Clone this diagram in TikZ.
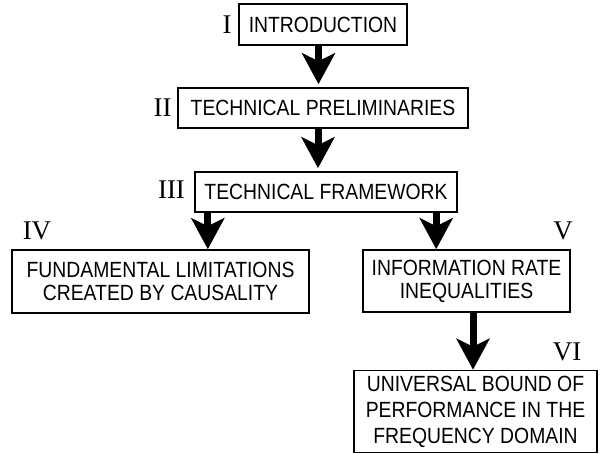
\documentclass[tikz,border=0pt]{standalone}
\usepackage{fontspec}
\setmainfont{Liberation Sans}[FakeStretch=0.88]
\newfontfamily\numfont{Liberation Serif}
\usetikzlibrary{arrows.meta}
\begin{document}
\begin{tikzpicture}[x=1pt,y=-1pt,
  box/.style={draw,line width=1.6pt,align=center,inner sep=0pt,
    font=\fontsize{22}{23}\selectfont},
  numlabel/.style={font=\numfont\fontsize{27}{27}\selectfont,inner sep=0pt},
  bigarrow/.style={line width=7pt,-{Stealth[length=31pt,width=33pt,inset=8pt]}}]
\useasboundingbox (0,0) rectangle (601,454);
\node[box,minimum width=168pt,minimum height=41pt] (intro) at (323,24.5) {INTRODUCTION};
\node[box,minimum width=290pt,minimum height=40pt] (prelim) at (323,108) {TECHNICAL PRELIMINARIES};
\node[box,minimum width=262pt,minimum height=40pt] (frame) at (326,192) {TECHNICAL FRAMEWORK};
\node[box,minimum width=297pt,minimum height=63pt] (fund) at (160.5,281.5) {FUNDAMENTAL LIMITATIONS\\CREATED BY CAUSALITY};
\node[box,minimum width=207pt,minimum height=62pt] (info) at (466.5,281) {INFORMATION RATE\\INEQUALITIES};
\node[box,minimum width=243pt,minimum height=82pt,font=\fontsize{22}{26}\selectfont] (univ) at (475.5,411.5) {UNIVERSAL BOUND OF\\PERFORMANCE IN THE\\FREQUENCY DOMAIN};
\node[numlabel] (l1) at (227,25) {I};
\node[numlabel] (l2) at (162.5,108) {II};
\node[numlabel] (l3) at (171.5,190) {III};
\node[numlabel] (l4) at (37,231) {IV};
\node[numlabel] (l5) at (563,231) {V};
\node[numlabel] (l6) at (567,352) {VI};
\draw[bigarrow,shorten >=3pt] ([xshift=-4.5pt]intro.south) -- ([xshift=-4.5pt]intro.south |- prelim.north);
\draw[bigarrow,shorten >=3pt] ([xshift=-5pt]prelim.south) -- ([xshift=-5pt]prelim.south |- frame.north);
\draw[bigarrow] (frame.south -| fund.north east) ++(-102pt,0) coordinate (s3) -- (s3 |- fund.north);
\draw[bigarrow] (frame.south -| info.north west) ++(74pt,0) coordinate (s4) -- (s4 |- info.north);
\draw[bigarrow] ([xshift=6.5pt]info.south) -- ([xshift=6.5pt]info.south |- univ.north);
\end{tikzpicture}
\end{document}
